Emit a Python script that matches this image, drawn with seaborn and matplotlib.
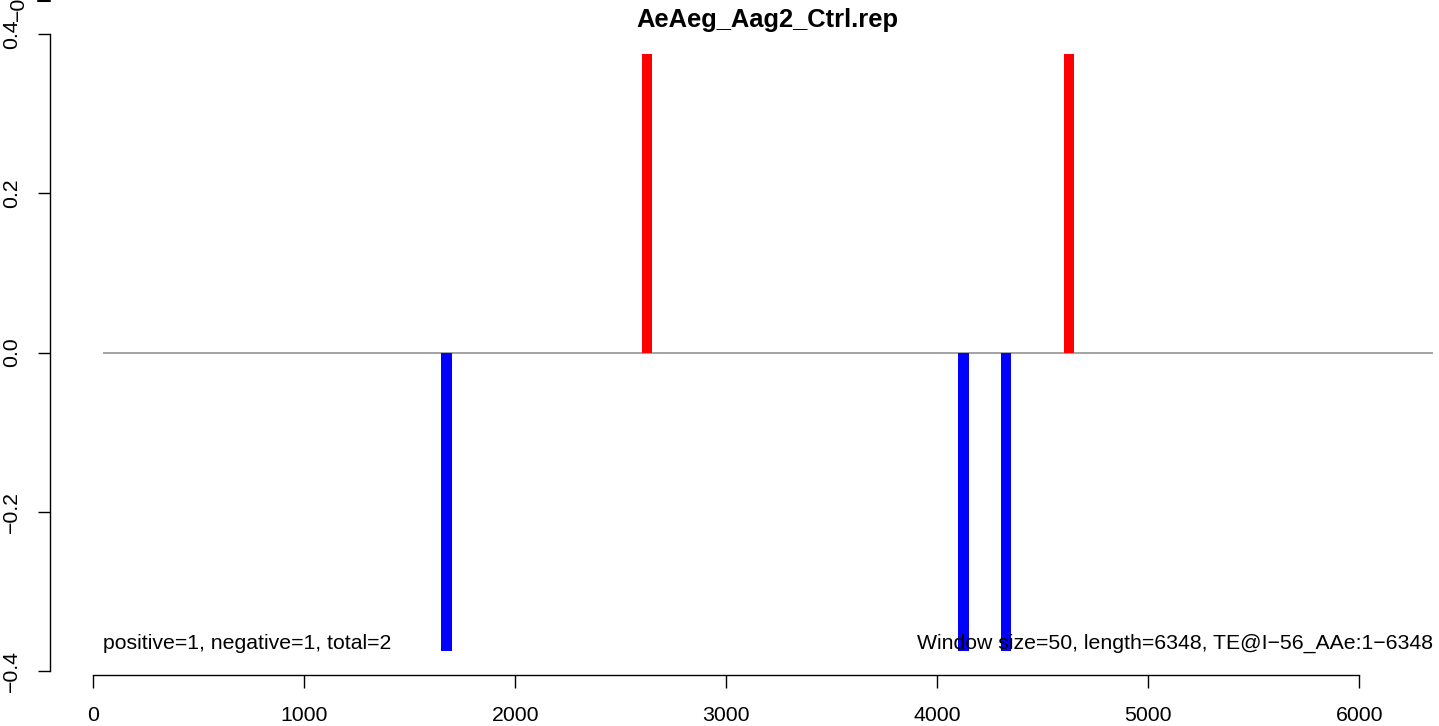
import matplotlib
matplotlib.use("Agg")
import matplotlib.pyplot as plt
import seaborn as sns
import pandas as pd
from matplotlib.lines import Line2D

# ---- data ----
title = "AeAeg_Aag2_Ctrl.rep"
pos_x = [2625, 4625]
pos_y = [0.375, 0.375]
neg_x = [1675, 4125, 4325]
neg_y = [-0.375, -0.375, -0.375]
window = 50
te_start = 45
te_length = 6348
x_ticks = [0, 1000, 2000, 3000, 4000, 5000, 6000]
y_ticks = [-0.4, -0.2, 0.0, 0.2, 0.4]
y_tick_labels = ["\u22120.4", "\u22120.2", "0.0", "0.2", "0.4"]
left_label = "positive=1, negative=1, total=2"
right_label = "Window size=50, length=6348, TE@I\u221256_AAe:1\u22126348"

sns.set_theme(style="white")
plt.rcParams["font.family"] = ["Liberation Sans", "DejaVu Sans"]

FS = 15.3
W, H, DPI = 1439, 726, 100
fig = plt.figure(figsize=(W / DPI, H / DPI), dpi=DPI)

# pixel mapping of the reference
x0_px, xs = 93.3, 0.211      # pixel of x=0, px per unit
y0_px, ys = 352.5, 796.0     # pixel of y=0, px per unit
ax_left_px, ax_bottom_px = 50.0, 674.5
xl = ((ax_left_px - x0_px) / xs, (W - x0_px) / xs)
yl = (-(ax_bottom_px - y0_px) / ys, y0_px / ys)

ax = fig.add_axes([ax_left_px / W, (H - ax_bottom_px) / H,
                   (W - ax_left_px) / W, ax_bottom_px / H])
ax.set_xlim(*xl)
ax.set_ylim(*yl)

df = pd.DataFrame({
    "x": pos_x + neg_x,
    "y": pos_y + neg_y,
    "strand": ["pos"] * len(pos_x) + ["neg"] * len(neg_x),
})
ax.hlines(0, te_start, te_length, color="#8a8a8a", lw=1.1, zorder=1)
colors = {"pos": "#ff0000", "neg": "#0000ff"}
ax.bar(df["x"], df["y"], width=window, color=[colors[s] for s in df["strand"]],
       linewidth=0, zorder=2)

for s in ["top", "right"]:
    ax.spines[s].set_visible(False)
ax.spines["left"].set_bounds(-0.4, 0.4)
ax.spines["bottom"].set_bounds(0, 6000)
for s in ["left", "bottom"]:
    ax.spines[s].set_linewidth(1.0)
    ax.spines[s].set_color("black")

ax.set_xticks(x_ticks)
ax.set_xticklabels([str(t) for t in x_ticks])
ax.set_yticks(y_ticks)
ax.set_yticklabels(y_tick_labels, rotation=90, va="center")
ax.tick_params(axis="both", direction="out", length=9, width=1.0, color="black",
               labelsize=FS, labelcolor="black", left=True, bottom=True)
ax.tick_params(axis="x", pad=13.5)
ax.tick_params(axis="y", pad=12)
ax.grid(False)

ax.text(te_start, -0.365, left_label, ha="left", va="center", fontsize=FS, color="black")
ax.text(te_length, -0.365, right_label, ha="right", va="center", fontsize=FS, color="black")

fig.text(767 / W, 1 - 27 / H, title, ha="center", va="baseline",
         fontsize=18.4, fontweight="bold", color="black")

# remnants of the panel above (cut by the crop)
fig.text(18 / W, 1.0, "\u22120.4", rotation=90, ha="center", va="center",
         fontsize=FS, color="black")
fig.add_artist(Line2D([38 / W, 50 / W], [1 - 0.5 / H, 1 - 0.5 / H],
                      color="black", lw=1.5))

fig.savefig("out.png", dpi=DPI, facecolor="white")
